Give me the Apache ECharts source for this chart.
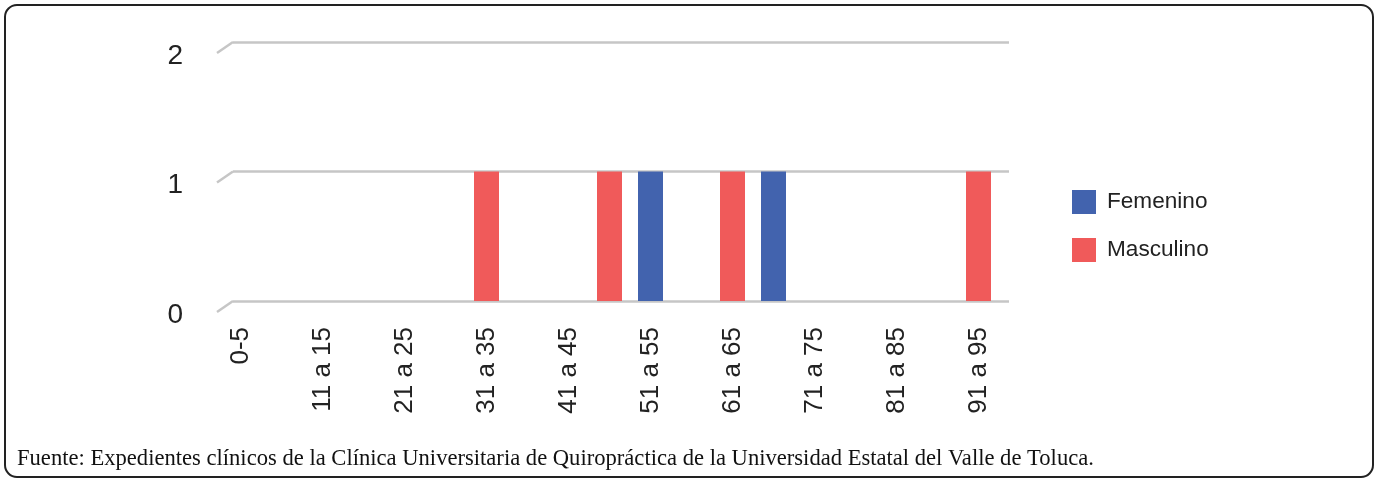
<!DOCTYPE html>
<html>
<head>
<meta charset="utf-8">
<script src="https://cdn.jsdelivr.net/npm/echarts@6/dist/echarts.min.js"></script>
<style>
  html, body { margin: 0; padding: 0; background: #fff; }
  #main { width: 1378px; height: 481px; }
</style>
</head>
<body>
<div id="main"></div>
<script>
const categories = [
  "0-5", "6 a 10", "11 a 15", "16 a 20", "21 a 25", "26 a 30", "31 a 35",
  "36 a 40", "41 a 45", "46 a 50", "51 a 55", "56 a 60", "61 a 65",
  "66 a 70", "71 a 75", "76 a 80", "81 a 85", "86 a 90", "91 a 95"
];
const femenino = [0, 0, 0, 0, 0, 0, 0, 0, 0, 0, 1, 0, 0, 1, 0, 0, 0, 0, 0];
const masculino = [0, 0, 0, 0, 0, 0, 1, 0, 0, 1, 0, 0, 1, 0, 0, 0, 0, 0, 1];
const yTicks = [0, 1, 2];
const fuente = "Fuente: Expedientes clínicos de la Clínica Universitaria de Quiropráctica de la Universidad Estatal del Valle de Toluca.";

const BLUE = "#4263ae";
const RED = "#f05a5a";
const GRID_LINE = "#c6c6c6";

const options = {
  animation: false,
  textStyle: { fontFamily: "Liberation Sans, Arial, sans-serif" },
  legend: {
    orient: "vertical",
    left: 1072,
    top: 190,
    padding: 0,
    itemWidth: 24,
    itemHeight: 24,
    itemGap: 24,
    icon: "rect",
    textStyle: { fontSize: 22.6, color: "#222", padding: [0, 0, 0, 6] },
    data: ["Femenino", "Masculino"]
  },
  grid: [
    { left: 220, width: 779, top: 42, bottom: 180 },
    { left: 233, right: 369, top: 42, bottom: 180 }
  ],
  xAxis: [
    {
      type: "category",
      gridIndex: 0,
      data: categories,
      axisLine: { show: false },
      axisTick: { show: false },
      axisLabel: {
        rotate: 90,
        interval: 1,
        margin: 26,
        fontSize: 26,
        color: "#222"
      }
    },
    {
      type: "category",
      gridIndex: 1,
      data: categories,
      show: false
    }
  ],
  yAxis: [
    {
      type: "value",
      gridIndex: 0,
      min: 0,
      max: 2,
      interval: 1,
      show: false
    },
    {
      type: "value",
      gridIndex: 1,
      min: 0,
      max: 2,
      interval: 1,
      axisLine: { show: false },
      axisTick: { show: false },
      splitLine: { lineStyle: { color: GRID_LINE, width: 2.5 } },
      axisLabel: {
        margin: 50,
        fontSize: 28,
        color: "#222",
        verticalAlign: "top",
        formatter: v => (yTicks.includes(v) ? String(v) : "")
      }
    }
  ],
  series: [
    {
      name: "Femenino",
      type: "bar",
      stack: "total",
      xAxisIndex: 0,
      yAxisIndex: 0,
      barWidth: 25,
      itemStyle: { color: BLUE },
      data: femenino
    },
    {
      name: "Masculino",
      type: "bar",
      stack: "total",
      xAxisIndex: 0,
      yAxisIndex: 0,
      barWidth: 25,
      itemStyle: { color: RED },
      data: masculino
    }
  ]
};

const myChart = echarts.init(document.getElementById("main"));
myChart.setOption(options);

// slanted stubs at the left end of each gridline + frame + source note
const gridLeft = 233;
const stubs = yTicks.map(v => {
  const y = myChart.convertToPixel({ yAxisIndex: 1 }, v);
  return {
    type: "line",
    shape: { x1: gridLeft - 16, y1: y + 11, x2: gridLeft, y2: y },
    style: { stroke: GRID_LINE, lineWidth: 2.5 }
  };
});

myChart.setOption({
  graphic: [
    ...stubs,
    {
      type: "rect",
      shape: { x: 5, y: 5, width: 1368, height: 472, r: 12 },
      style: { fill: "none", stroke: "#222", lineWidth: 2 }
    },
    {
      type: "text",
      left: 17,
      top: 448,
      style: {
        text: fuente,
        font: "22.6px 'Liberation Serif', 'Times New Roman', serif",
        fill: "#111"
      }
    }
  ]
});

window.onresize = function() {
  myChart.resize();
};
</script>
</body>
</html>
